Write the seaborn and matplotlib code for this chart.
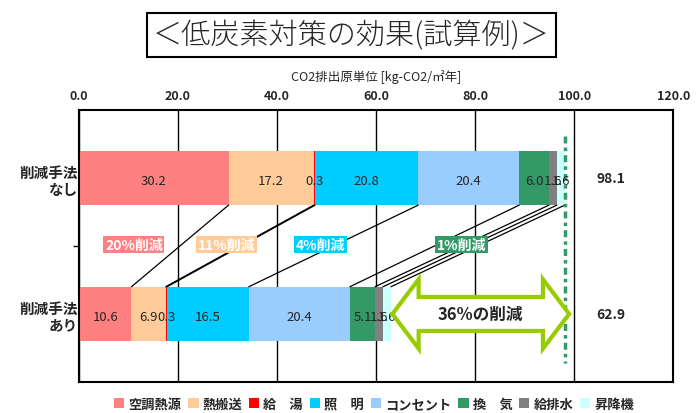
import numpy as np
import matplotlib
matplotlib.use('Agg')
import matplotlib.pyplot as plt
import seaborn as sns
from matplotlib.patches import Polygon, Patch

# データ
cases = ['削減手法\nなし', '削減手法\nあり']
uses = ['空調熱源', '熱搬送', '給　湯', '照　明', 'コンセント', '換　気', '給排水', '昇降機']
before = [30.2, 17.2, 0.3, 20.8, 20.4, 6.0, 1.6, 1.6]
after = [10.6, 6.9, 0.3, 16.5, 20.4, 5.1, 1.6, 1.6]
totals = [98.1, 62.9]
cut_pct = [20, 11, 4, 1]
cut_use = ['空調熱源', '熱搬送', '照　明', '換　気']
total_cut = 36
colors = ['#FF8080', '#FFCC99', '#FF0000', '#00CCFF', '#99CCFF', '#339966', '#808080', '#CCFFFF']

sns.set_style('white')
plt.rcParams['font.family'] = ['Noto Sans CJK JP', 'DejaVu Sans']

fig = plt.figure(figsize=(6.99, 4.14), dpi=100)
ax = fig.add_axes([0.113, 0.075, 0.850, 0.657])

vals = np.array([before, after])
cum = np.cumsum(vals, axis=1)

# 積み上げ棒（累積値を大きい順に重ねる）
for i in reversed(range(len(uses))):
    sns.barplot(x=cum[:, i], y=cases, orient='h', color=colors[i], saturation=1,
                width=0.4, linewidth=0, ax=ax, zorder=2)

# 数値ラベル
for j in range(2):
    for i in range(len(uses)):
        ax.text(cum[j, i] - vals[j, i] / 2, j + 0.02, f'{vals[j, i]:.1f}',
                ha='center', va='center', fontsize=9.5, zorder=5)
    ax.text(107.5, j, f'{totals[j]:.1f}', ha='center', va='center',
            fontsize=10, fontweight='bold', zorder=5)

# 区分線
for i in range(len(uses)):
    ax.plot([cum[0, i], cum[1, i]], [0.2, 0.8], color='black', lw=0.9, zorder=3)

# 削減率ラベル
cut_x = [11.1, 29.8, 48.8, 77.3]
for p, u, x in zip(cut_pct, cut_use, cut_x):
    c = colors[uses.index(u)]
    ax.text(x, 0.49, f'{p}%削減', ha='center', va='center', color='white',
            fontsize=10, fontweight='bold', zorder=6,
            bbox=dict(boxstyle='square,pad=0.12', fc=c, ec='none'))

# 基準線
ax.plot([totals[0], totals[0]], [-0.305, 1.36], color='#339966', lw=2.5,
        ls=(0, (2, 1.2, 1, 1.2)), zorder=4)

# 両矢印
x0, x1 = totals[1] + 0.4, totals[0] + 0.9
hl, hh, sh = 5.3, 0.255, 0.125
yc = 1.0
arrow = Polygon([(x0, yc), (x0 + hl, yc - hh), (x0 + hl, yc - sh), (x1 - hl, yc - sh),
                 (x1 - hl, yc - hh), (x1, yc), (x1 - hl, yc + hh), (x1 - hl, yc + sh),
                 (x0 + hl, yc + sh), (x0 + hl, yc + hh)], closed=True,
                fc='white', ec='#99CC00', lw=3, joinstyle='miter', zorder=6)
ax.add_patch(arrow)
ax.text((x0 + x1) / 2, yc, f'{total_cut}%の削減', ha='center', va='center',
        fontsize=12, fontweight='bold', zorder=7)

# 軸
ax.set_xlim(0, 120)
ax.set_ylim(1.5, -0.5)
ax.set_xticks(np.arange(0, 121, 20))
ax.set_xticklabels([f'{v:.1f}' for v in np.arange(0, 121, 20)], fontweight='bold')
ax.xaxis.tick_top()
ax.xaxis.set_label_position('top')
ax.tick_params(axis='x', length=0, labelsize=9, pad=6)
ax.set_xlabel('CO2排出原単位 [kg-CO2/㎡年]', fontsize=9, labelpad=6)
ax.set_ylabel('')
ax.set_yticks([0, 1])
ax.set_yticklabels(cases, fontsize=10.5, fontweight='bold', linespacing=1.1)
ax.tick_params(axis='y', length=0, pad=1)
ax.set_yticks([0.5], minor=True)
ax.tick_params(axis='y', which='minor', length=4, width=1, color='black', left=True)
ax.grid(axis='x', color='black', lw=1)
ax.grid(axis='y', visible=False)
ax.set_axisbelow(True)
for s in ax.spines.values():
    s.set_visible(True)
    s.set_color('black')
    s.set_linewidth(1.5)

# タイトル
fig.text(0.503, 0.913, '＜低炭素対策の効果(試算例)＞', ha='center', va='center',
         fontsize=21, fontweight='light',
         bbox=dict(boxstyle='square,pad=0.22', fc='white', ec='black', lw=1.5))

# 凡例
handles = [Patch(fc=c, ec='none') for c in colors]
fig.legend(handles, uses, loc='center', bbox_to_anchor=(0.535, 0.022), ncol=8,
           frameon=False, handlelength=0.8, handleheight=0.8,
           handletextpad=0.3, columnspacing=0.5, prop={'weight': 'bold', 'size': 9.5})

fig.savefig('out.png', dpi=100)
